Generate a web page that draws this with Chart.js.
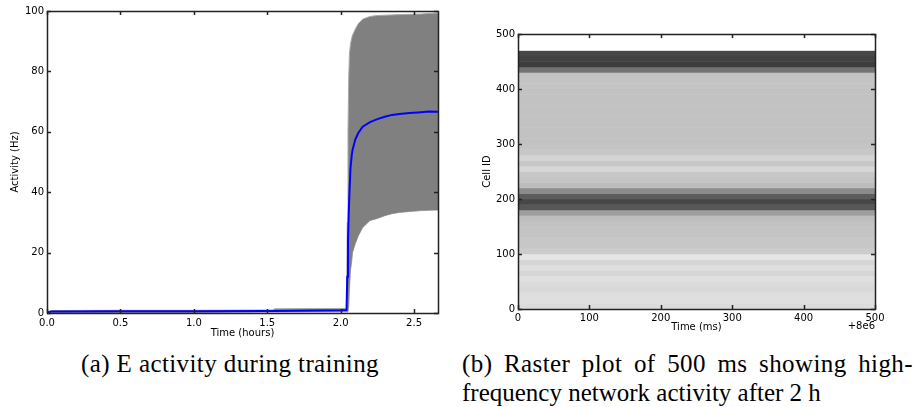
<!DOCTYPE html>
<html><head><meta charset="utf-8">
<script src="https://cdn.jsdelivr.net/npm/chart.js@4.4.0/dist/chart.umd.min.js"></script>
<style>
html,body{margin:0;padding:0;background:#fff;width:920px;height:407px;overflow:hidden}
#c1{position:absolute;left:0;top:0;width:460px;height:345px}
#c2{position:absolute;left:460px;top:0;width:460px;height:345px}
.cap{position:absolute;font-family:'Liberation Serif',serif;font-size:25px;line-height:29px;color:#000;white-space:nowrap;letter-spacing:0.4px}
</style></head><body>
<canvas id="c1" width="460" height="345"></canvas>
<canvas id="c2" width="460" height="345"></canvas>
<div class="cap" style="left:0;width:460px;top:349px;text-align:center">(a) E activity during training</div>
<div class="cap" style="left:462px;width:451px;top:349px;text-align:justify;text-align-last:justify;white-space:normal">(b) Raster plot of 500 ms showing high-</div>
<div class="cap" style="left:462px;top:378px;letter-spacing:0px">frequency network activity after 2 h</div>
<script>
// ---- Panel (a): E activity during training ----
const timeHours = [0, 0.03, 0.5, 1.0, 1.5, 1.54, 1.55, 2.0, 2.04, 2.045, 2.05, 2.055, 2.06, 2.067, 2.075, 2.081, 2.1, 2.12, 2.15, 2.2, 2.25, 2.3, 2.35, 2.4, 2.47, 2.55, 2.6, 2.663];
const meanHz    = [0.2, 0.5, 0.6, 0.6, 0.7, 0.7, 0.7, 0.9, 1.0, 12, 24, 33, 40, 48, 52, 54, 57.5, 59.6, 61.7, 63.2, 64.2, 65.0, 65.6, 65.9, 66.2, 66.5, 66.7, 66.6];
const upperHz   = [0.3, 0.8, 0.9, 0.9, 1.0, 1.0, 1.4, 1.5, 1.5, 30, 60, 78, 86, 89, 91, 92, 94, 95.8, 97.3, 98.2, 98.5, 98.6, 98.7, 98.8, 98.9, 99.0, 99.2, 99.3];
const lowerHz   = [0, 0.1, 0.2, 0.2, 0.3, 0.3, 0.3, 0.4, 0.4, 0.4, 0.5, 2, 8, 14, 17, 20, 23, 25.5, 28.3, 30.6, 31.3, 32.2, 32.9, 33.3, 33.6, 33.9, 34.0, 34.1];
const activityTicks = [0, 20, 40, 60, 80, 100];

// ---- Panel (b): raster, spike density per block of 10 cells ----
const cellBinStart = [0,10,20,30,40,50,60,70,80,90,100,110,120,130,140,150,160,170,180,190,200,210,220,230,240,250,260,270,280,290,300,310,320,330,340,350,360,370,380,390,400,410,420,430,440,450,460,470,480,490];
const spikeDensity = [0.14,0.13,0.13,0.15,0.14,0.12,0.16,0.13,0.16,0.10,0.20,0.22,0.22,0.23,0.23,0.24,0.26,0.38,0.66,0.72,0.64,0.45,0.26,0.23,0.22,0.16,0.22,0.17,0.22,0.23,0.24,0.24,0.24,0.24,0.24,0.24,0.24,0.24,0.24,0.24,0.23,0.23,0.24,0.55,0.76,0.74,0.72,0,0,0];
const rasterOffsetMs = 8e6;
const rasterWindowMs = 500;

Chart.defaults.font.family = "'DejaVu Sans', sans-serif";
Chart.defaults.font.size = 10;
Chart.defaults.color = '#000';

const frameTicks = {
  id: 'frameTicks',
  afterDraw(chart, args, opts) {
    const ctx = chart.ctx;
    const a = chart.chartArea;
    const sx = chart.scales.x, sy = chart.scales.y;
    const L = Math.round(a.left), R = Math.round(a.right), T = Math.round(a.top), B = Math.round(a.bottom);
    ctx.save();
    ctx.globalAlpha = 1;
    ctx.strokeStyle = '#222';
    ctx.lineWidth = 1.5;
    const TL = 4;
    ctx.beginPath();
    sx.ticks.forEach(t => {
      const p = Math.round(sx.getPixelForValue(t.value)) + 0.5;
      ctx.moveTo(p, B); ctx.lineTo(p, B - TL);
      ctx.moveTo(p, T); ctx.lineTo(p, T + TL);
    });
    sy.ticks.forEach(t => {
      const p = Math.round(sy.getPixelForValue(t.value)) + 0.5;
      ctx.moveTo(L, p); ctx.lineTo(L + TL, p);
      ctx.moveTo(R, p); ctx.lineTo(R - TL, p);
    });
    ctx.stroke();
    ctx.strokeRect(L + 0.5, T + 0.5, R - L, B - T);
    if (opts && opts.offsetText) {
      ctx.fillStyle = '#000';
      ctx.font = "10px 'DejaVu Sans'";
      ctx.textAlign = 'right';
      ctx.textBaseline = 'middle';
      ctx.fillText(opts.offsetText, R, B + 17);
    }
    ctx.restore();
  }
};

const axisBorder = { display: false };
const greyFor = d => { const g = Math.round(255 * (1 - d)); return `rgb(${g},${g},${g})`; };

new Chart(document.getElementById('c1'), {
  type: 'line',
  data: {
    datasets: [
      { label: 'mean', data: timeHours.map((t, i) => ({x: t, y: meanHz[i]})), borderColor: '#0000ff', borderWidth: 2, pointRadius: 0, fill: false, order: 0 },
      { label: 'upper', data: timeHours.map((t, i) => ({x: t, y: upperHz[i]})), borderColor: '#a8a8a8', borderWidth: 1, backgroundColor: '#808080', pointRadius: 0, fill: '+1', order: 1 },
      { label: 'lower', data: timeHours.map((t, i) => ({x: t, y: lowerHz[i]})), borderColor: '#a8a8a8', borderWidth: 1, pointRadius: 0, fill: false, order: 2 }
    ]
  },
  options: {
    responsive: false, animation: false, devicePixelRatio: 1,
    layout: { padding: { top: 11, right: 22, left: 0, bottom: 0 } },
    plugins: { legend: { display: false }, tooltip: { enabled: false }, frameTicks: {} },
    scales: {
      x: { type: 'linear', min: 0, max: 2.663, offset: false,
        grid: { display: false, drawTicks: false, tickLength: 0 }, border: axisBorder,
        ticks: { stepSize: 0.5, includeBounds: false, padding: 4, maxRotation: 0, callback: v => v.toFixed(1) },
        title: { display: true, text: 'Time (hours)', padding: { top: 0, bottom: 6 } },
        afterFit(s) { s.height = 32; } },
      y: { type: 'linear', min: 0, max: 100, offset: false,
        grid: { display: false, drawTicks: false, tickLength: 0 }, border: axisBorder,
        afterBuildTicks(s) { s.ticks = activityTicks.map(v => ({value: v})); },
        ticks: { padding: 3 },
        title: { display: true, text: 'Activity (Hz)', padding: { top: 9, bottom: 0 } },
        afterFit(s) { s.width = 47; } }
    }
  },
  plugins: [frameTicks]
});

new Chart(document.getElementById('c2'), {
  type: 'bar',
  data: {
    datasets: [{
      label: 'spikes',
      data: cellBinStart.map((c) => ({y: c + 5, x: [rasterOffsetMs, rasterOffsetMs + rasterWindowMs]})),
      backgroundColor: spikeDensity.map(greyFor),
      borderWidth: 0, barPercentage: 1.08, categoryPercentage: 1
    }]
  },
  options: {
    indexAxis: 'y',
    responsive: false, animation: false, devicePixelRatio: 1,
    layout: { padding: { top: 34, right: 45, left: 0, bottom: 0 } },
    plugins: { legend: { display: false }, tooltip: { enabled: false }, frameTicks: { offsetText: '+8e6' } },
    scales: {
      x: { type: 'linear', position: 'bottom', min: rasterOffsetMs, max: rasterOffsetMs + rasterWindowMs, offset: false,
        grid: { display: false, drawTicks: false, tickLength: 0 }, border: axisBorder,
        ticks: { stepSize: 100, padding: 3, maxRotation: 0, callback: v => String(Math.round(v - rasterOffsetMs)) },
        title: { display: true, text: 'Time (ms)', padding: { top: 0, bottom: 12 } },
        afterFit(s) { s.height = 36; } },
      y: { type: 'linear', min: 0, max: 500, offset: false,
        grid: { display: false, drawTicks: false, tickLength: 0 }, border: axisBorder,
        ticks: { stepSize: 100, padding: 3 },
        title: { display: true, text: 'Cell ID', padding: { top: 21, bottom: 0 } },
        afterFit(s) { s.width = 58; } }
    }
  },
  plugins: [frameTicks]
});
</script>
</body></html>
